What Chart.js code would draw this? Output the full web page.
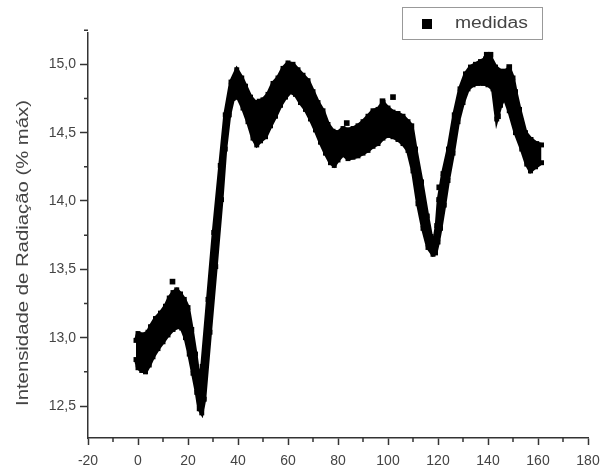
<!DOCTYPE html>
<html>
<head>
<meta charset="utf-8">
<script src="https://cdn.jsdelivr.net/npm/chart.js@4/dist/chart.umd.min.js"></script>
<style>
  body { margin: 0; background: #fff; }
  #wrap { width: 612px; height: 472px; }
</style>
</head>
<body>
<div id="wrap"><canvas id="resultChart" width="612" height="472"></canvas></div>
<script>
// upper edge of the measured band (tempo, intensidade)
const upperX = [-0.8, 0, 2, 4, 5, 7, 9, 11, 12.5, 14, 15.5, 17, 18.5, 20, 21.5, 23, 24.5, 25.7, 28, 30.3,
  32.9, 34.9, 37.2, 39.5, 41.5, 43, 45, 47, 48.5, 50, 52, 54, 56, 58, 60, 62, 64, 66, 68, 70,
  72, 74, 76, 78, 80, 82, 84, 86, 88, 90, 92, 94, 96, 98, 100, 102, 104, 106, 108, 109.5,
  111, 113.4, 115.7, 117.2, 118.5, 119.5, 120.3, 122, 124.2, 126.5, 128.8, 131, 133, 135, 137, 139, 141, 143, 145, 147,
  148.5, 150, 151, 152.6, 155, 157.2, 159.5, 161.4];
const upperY = [12.98, 13.03, 13.02, 13.04, 13.08, 13.14, 13.18, 13.23, 13.29, 13.33, 13.35, 13.32, 13.28, 13.22, 13.06, 12.88, 12.68, 12.79, 13.28, 13.77,
  14.26, 14.63, 14.87, 14.96, 14.90, 14.84, 14.76, 14.72, 14.73, 14.74, 14.78, 14.86, 14.90, 14.97, 15.01, 15.00, 14.96, 14.92, 14.88, 14.80,
  14.72, 14.66, 14.56, 14.51, 14.50, 14.53, 14.52, 14.53, 14.55, 14.58, 14.62, 14.66, 14.67, 14.72, 14.68, 14.65, 14.64, 14.62, 14.58, 14.55,
  14.38, 14.14, 13.89, 13.74, 13.70, 13.82, 14.01, 14.20, 14.38, 14.63, 14.82, 14.93, 14.98, 15.00, 15.02, 15.04, 15.05, 14.98, 14.95, 14.95,
  14.97, 14.90, 14.80, 14.67, 14.50, 14.45, 14.42, 14.41];

// lower edge of the band
const lowerX = [-0.8, 0, 1.5, 3, 4.5, 6, 8, 10, 12, 14, 16, 17.5, 19, 20.5, 22, 23.5, 24.5, 25.5, 26.5, 28.8,
  31.1, 33.4, 34.9, 36.5, 38, 40, 42, 44, 46, 47.5, 49, 51, 53, 55, 57, 59, 61, 63, 65, 67,
  69, 71, 73, 75, 77, 78.5, 80, 82, 84, 86, 88, 90, 92, 94, 96, 98, 100, 102, 104, 106,
  108, 110, 112, 114, 116, 118, 119, 120, 121, 122.5, 124, 126, 128, 130, 132, 134, 136, 138, 140, 142,
  143.5, 145, 146.5, 148.5, 151, 153.5, 155.5, 157, 159, 161.4];
const lowerY = [12.84, 12.78, 12.76, 12.75, 12.80, 12.86, 12.92, 12.97, 13.02, 13.06, 13.08, 13.07, 13.00, 12.88, 12.74, 12.60, 12.48, 12.45, 12.55, 13.04,
  13.52, 14.01, 14.38, 14.63, 14.75, 14.76, 14.68, 14.58, 14.46, 14.41, 14.44, 14.47, 14.55, 14.62, 14.70, 14.76, 14.80, 14.78, 14.72, 14.67,
  14.60, 14.52, 14.43, 14.35, 14.28, 14.26, 14.30, 14.34, 14.31, 14.32, 14.33, 14.35, 14.37, 14.40, 14.42, 14.46, 14.48, 14.47, 14.45, 14.42,
  14.37, 14.22, 13.98, 13.80, 13.66, 13.61, 13.62, 13.70, 13.80, 13.97, 14.15, 14.35, 14.58, 14.72, 14.82, 14.85, 14.86, 14.86, 14.85, 14.82,
  14.60, 14.70, 14.76, 14.66, 14.50, 14.38, 14.27, 14.22, 14.25, 14.28];

// stray single points sticking out of the band
const strayX = [13.8, 48.5, 83.5, 97.8, 102, 120.5, 139.5, 141, 143.5, 144, 148.5];
const strayY = [13.41, 14.70, 14.57, 14.73, 14.76, 14.10, 15.07, 15.07, 14.68, 14.62, 14.98];

const xTicks = [-20, 0, 20, 40, 60, 80, 100, 120, 140, 160, 180];
const yTicks = [12.5, 13.0, 13.5, 14.0, 14.5, 15.0];

const seriesLabel = 'medidas';
const yTitle = 'Intensidade de Radiação (% máx)';

const upper = upperX.map((x, i) => ({ x: x, y: upperY[i] }));
const lower = lowerX.map((x, i) => ({ x: x, y: lowerY[i] }));
const stray = strayX.map((x, i) => ({ x: x, y: strayY[i] }));

const FONT = '"Liberation Sans", Arial, sans-serif';

// minor ticks, y title and the boxed legend
const extras = {
  id: 'extras',
  afterDraw(chart) {
    const ctx = chart.ctx;
    const xs = chart.scales.x, ys = chart.scales.y;
    ctx.save();
    ctx.strokeStyle = '#333';
    ctx.lineWidth = 1.5;
    ctx.beginPath();
    for (let i = 0; i < xTicks.length - 1; i++) {
      const px = xs.getPixelForValue((xTicks[i] + xTicks[i + 1]) / 2);
      ctx.moveTo(px, xs.top); ctx.lineTo(px, xs.top + 4);
    }
    for (let i = 0; i < yTicks.length; i++) {
      const py = ys.getPixelForValue(yTicks[i] + 0.25);
      ctx.moveTo(ys.right, py); ctx.lineTo(ys.right - 4, py);
    }
    ctx.stroke();

    ctx.fillStyle = '#444';
    ctx.font = '16px ' + FONT;
    ctx.textAlign = 'center';
    ctx.textBaseline = 'middle';
    ctx.translate(24, 253);
    ctx.rotate(-Math.PI / 2);
    ctx.scale(306 / ctx.measureText(yTitle).width, 1);
    ctx.fillText(yTitle, 0, 0);
    ctx.restore();

    ctx.save();
    ctx.strokeStyle = '#999';
    ctx.lineWidth = 1;
    ctx.fillStyle = '#fff';
    ctx.fillRect(402.5, 7.5, 140, 32);
    ctx.strokeRect(402.5, 7.5, 140, 32);
    ctx.fillStyle = '#000';
    ctx.fillRect(422, 19, 10, 10);
    ctx.fillStyle = '#444';
    ctx.font = '16px ' + FONT;
    ctx.textBaseline = 'middle';
    ctx.translate(455, 24);
    ctx.scale(73 / ctx.measureText(seriesLabel).width, 1);
    ctx.fillText(seriesLabel, 0, 0);
    ctx.restore();
  }
};

const edgeStyle = {
  showLine: true,
  borderColor: '#000',
  backgroundColor: '#000',
  borderWidth: 4,
  pointStyle: 'rect',
  pointRadius: 3.5,
  pointBackgroundColor: '#000',
  pointBorderWidth: 0
};

const ctx = document.getElementById('resultChart').getContext('2d');
new Chart(ctx, {
  type: 'scatter',
  data: {
    datasets: [
      Object.assign({ label: seriesLabel, data: upper, fill: '+1' }, edgeStyle),
      Object.assign({ label: seriesLabel, data: lower, fill: false }, edgeStyle),
      {
        label: seriesLabel,
        data: stray,
        pointStyle: 'rect',
        pointRadius: 4,
        backgroundColor: '#000',
        borderWidth: 0
      }
    ]
  },
  options: {
    responsive: false,
    animation: false,
    layout: { padding: { top: 33, right: 24, left: 0, bottom: 0 } },
    plugins: { legend: { display: false }, tooltip: { enabled: false } },
    scales: {
      x: {
        type: 'linear',
        min: -20,
        max: 180,
        afterBuildTicks: s => { s.ticks = xTicks.map(v => ({ value: v })); },
        afterFit: s => { s.height = 34; },
        border: { display: true, color: '#333', width: 1.5 },
        grid: { drawOnChartArea: false, drawTicks: true, tickLength: 7, color: '#333', tickWidth: 1.5 },
        ticks: { color: '#444', padding: 8, maxRotation: 0, font: { family: FONT, size: 14 }, callback: v => String(v) }
      },
      y: {
        type: 'linear',
        min: 12.266,
        max: 15.229,
        afterBuildTicks: s => { s.ticks = yTicks.map(v => ({ value: v })); },
        afterFit: s => { s.width = 88; },
        border: { display: true, color: '#333', width: 1.5 },
        grid: { drawOnChartArea: false, drawTicks: true, tickLength: 8, color: '#333', tickWidth: 1.5 },
        ticks: { color: '#444', padding: 4, font: { family: FONT, size: 14 }, callback: v => v.toFixed(1).replace('.', ',') }
      }
    }
  },
  plugins: [extras]
});
</script>
</body>
</html>
